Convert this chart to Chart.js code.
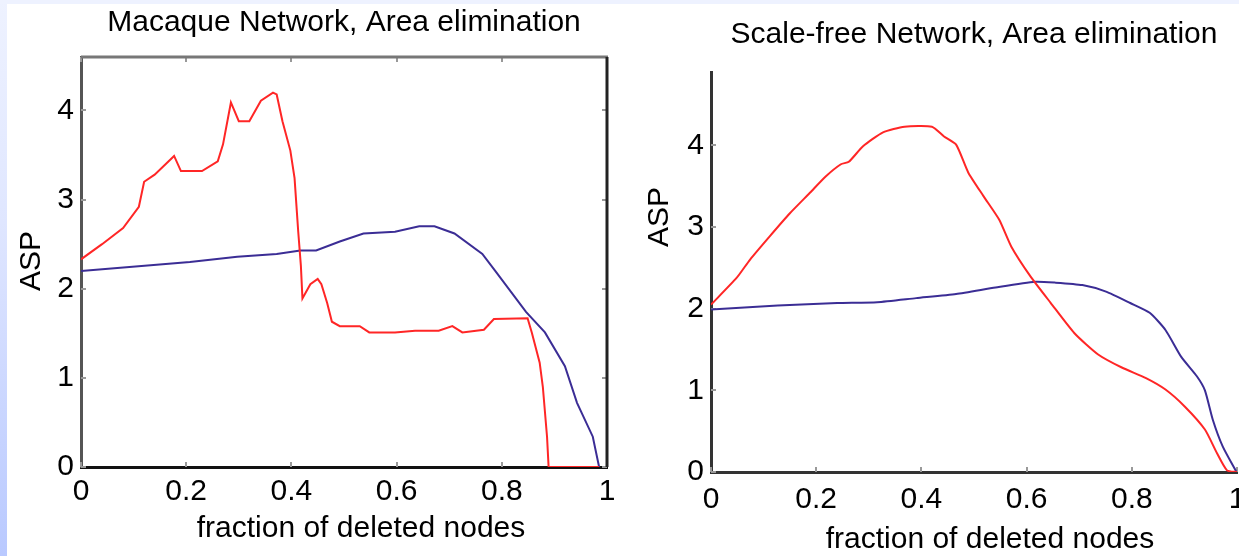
<!DOCTYPE html>
<html>
<head>
<meta charset="utf-8">
<script src="https://cdn.jsdelivr.net/npm/chart.js@4.4.0/dist/chart.umd.min.js"></script>
<style>
  html, body { margin: 0; padding: 0; background: #fff; }
  body { width: 1239px; height: 556px; position: relative; overflow: hidden; }
  #strip-left { position: absolute; left: 0; top: 0; width: 7px; height: 556px;
    background: linear-gradient(#eef2ff, #dfe6ff 40%, #b9c9ff); }
  #strip-top { position: absolute; left: 0; top: 0; width: 1239px; height: 4px; background: #eef2ff; }
  .panel { position: absolute; top: 0; height: 556px; }
  #left { left: 0; width: 620px; }
  #right { left: 620px; width: 619px; }
</style>
</head>
<body>
<div id="strip-left"></div>
<div id="strip-top"></div>
<div class="panel" id="left"><canvas id="macaqueChart" width="620" height="556"></canvas></div>
<div class="panel" id="right"><canvas id="scaleFreeChart" width="619" height="556"></canvas></div>
<script>
// Macaque network, area elimination
const macaqueRedX = [0, 0.04, 0.08, 0.11, 0.12, 0.14, 0.177, 0.19, 0.23, 0.26, 0.27, 0.285, 0.30, 0.32, 0.342, 0.365, 0.372, 0.383, 0.398, 0.406, 0.413, 0.418, 0.421, 0.436, 0.45, 0.457, 0.468, 0.477, 0.492, 0.53, 0.548, 0.597, 0.635, 0.68, 0.706, 0.725, 0.766, 0.785, 0.849, 0.857, 0.872, 0.878, 0.886, 0.889, 0.985];
const macaqueRedY = [2.33, 2.5, 2.68, 2.92, 3.2, 3.28, 3.49, 3.32, 3.32, 3.43, 3.62, 4.09, 3.88, 3.88, 4.11, 4.2, 4.18, 3.88, 3.55, 3.24, 2.64, 2.26, 1.89, 2.05, 2.11, 2.05, 1.84, 1.63, 1.58, 1.58, 1.51, 1.51, 1.53, 1.53, 1.58, 1.51, 1.54, 1.66, 1.67, 1.51, 1.17, 0.9, 0.34, 0, 0];
const macaqueBlueX = [0, 0.207, 0.297, 0.372, 0.417, 0.447, 0.492, 0.537, 0.597, 0.643, 0.672, 0.71, 0.763, 0.79, 0.846, 0.882, 0.92, 0.943, 0.973, 0.985];
const macaqueBlueY = [2.2, 2.3, 2.36, 2.39, 2.43, 2.43, 2.53, 2.62, 2.64, 2.7, 2.7, 2.62, 2.39, 2.18, 1.74, 1.51, 1.13, 0.72, 0.34, 0];

// Scale-free network, area elimination
const scaleFreeRedX = [0, 0.049, 0.074, 0.112, 0.15, 0.188, 0.218, 0.247, 0.262, 0.289, 0.327, 0.368, 0.42, 0.443, 0.466, 0.489, 0.518, 0.548, 0.571, 0.608, 0.646, 0.691, 0.736, 0.781, 0.827, 0.864, 0.901, 0.939, 0.962, 0.981, 1];
const scaleFreeRedY = [2.05, 2.38, 2.6, 2.89, 3.17, 3.42, 3.62, 3.77, 3.8, 3.99, 4.16, 4.23, 4.23, 4.11, 4.01, 3.67, 3.38, 3.09, 2.76, 2.39, 2.07, 1.7, 1.44, 1.28, 1.15, 1.01, 0.8, 0.52, 0.23, 0.02, 0];
const scaleFreeBlueX = [0, 0.127, 0.24, 0.316, 0.39, 0.466, 0.541, 0.616, 0.654, 0.706, 0.751, 0.797, 0.834, 0.864, 0.894, 0.924, 0.939, 0.954, 0.973, 0.999];
const scaleFreeBlueY = [1.99, 2.04, 2.07, 2.08, 2.13, 2.18, 2.26, 2.33, 2.32, 2.29, 2.21, 2.07, 1.95, 1.74, 1.41, 1.17, 1.0, 0.64, 0.31, 0];

const xTickStep = 0.2;
const yTickStep = 1;

const RED = '#ff2626';
const BLUE = '#3b2d95';
const FONT = 'Liberation Sans, Arial, sans-serif';

const toPoints = (xs, ys) => xs.map((x, i) => ({ x, y: ys[i] }));

// small inward ticks and the optional box around the plot
const frame = {
  id: 'frame',
  beforeDatasetsDraw(chart, args, opts) {
    const { ctx, chartArea: a, scales: { x, y } } = chart;
    const line = (x1, y1, x2, y2) => { ctx.beginPath(); ctx.moveTo(x1, y1); ctx.lineTo(x2, y2); ctx.stroke(); };
    ctx.save();
    ctx.strokeStyle = '#999';
    ctx.lineWidth = 2;
    x.ticks.forEach((t, i) => {
      const px = Math.round(x.getPixelForTick(i));
      line(px, a.bottom, px, a.bottom - 5);
      if (opts.box) line(px, a.top, px, a.top + 5);
    });
    y.ticks.forEach((t, i) => {
      const py = Math.round(y.getPixelForTick(i));
      line(a.left, py, a.left + 5, py);
      if (opts.box) line(a.right, py, a.right - 5, py);
    });
    if (opts.box) {
      ctx.lineWidth = 3;
      ctx.strokeStyle = '#777';
      line(a.left, a.top, a.right + 1, a.top);
      ctx.strokeStyle = '#222';
      line(a.right, a.top, a.right, a.bottom);
    }
    ctx.restore();
  }
};

// axis labels placed like the original figure
const axisText = {
  id: 'axisText',
  afterDraw(chart, args, opts) {
    const ctx = chart.ctx;
    (opts.items || []).forEach(it => {
      ctx.save();
      ctx.translate(it.x, it.y);
      ctx.rotate(it.rotate || 0);
      ctx.font = '30px ' + FONT;
      ctx.fillStyle = '#000';
      ctx.textAlign = 'center';
      ctx.textBaseline = 'alphabetic';
      ctx.fillText(it.text, 0, 0);
      ctx.restore();
    });
  }
};

const plainNum = v => String(Number(v.toFixed(2)));

function makeChart(id, cfg) {
  return new Chart(document.getElementById(id), {
    type: 'line',
    data: {
      datasets: [
        { data: toPoints(cfg.redX, cfg.redY), borderColor: RED },
        { data: toPoints(cfg.blueX, cfg.blueY), borderColor: BLUE }
      ]
    },
    options: {
      responsive: false,
      animation: false,
      layout: { padding: { left: 0, right: cfg.padRight, top: 0, bottom: 0 } },
      elements: {
        point: { radius: 0 },
        line: { borderWidth: 2, tension: cfg.tension }
      },
      plugins: {
        legend: { display: false },
        tooltip: { enabled: false },
        title: {
          display: true,
          text: cfg.title,
          fullSize: false,
          color: '#000',
          font: { family: FONT, size: 30, weight: 'normal' },
          padding: cfg.titlePad
        },
        frame: { box: cfg.box },
        axisText: { items: cfg.labels }
      },
      scales: {
        x: {
          type: 'linear',
          min: 0,
          max: 1,
          grid: { display: false, drawTicks: false },
          border: { display: true, color: cfg.xAxisColor, width: 3 },
          ticks: { stepSize: xTickStep, color: '#000', padding: cfg.xTickPad, maxRotation: 0,
                   font: { family: FONT, size: 30 }, callback: plainNum },
          afterFit: s => { s.height = cfg.xHeight; s.paddingRight = 0; }
        },
        y: {
          type: 'linear',
          min: 0,
          max: cfg.yMax,
          grid: { display: false, drawTicks: false },
          border: { display: true, color: cfg.yAxisColor, width: 3 },
          ticks: { stepSize: yTickStep, color: '#000', padding: 7,
                   font: { family: FONT, size: 30 }, callback: plainNum },
          afterBuildTicks: s => { s.ticks = s.ticks.filter(t => Number.isInteger(t.value)); },
          afterFit: s => { s.width = cfg.yWidth; }
        }
      }
    },
    plugins: [frame, axisText]
  });
}

makeChart('macaqueChart', {
  title: 'Macaque Network, Area elimination',
  redX: macaqueRedX, redY: macaqueRedY, blueX: macaqueBlueX, blueY: macaqueBlueY,
  yMax: 4.6, tension: 0, box: true,
  padRight: 13, yWidth: 81, xHeight: 89,
  titlePad: { top: 5, bottom: 16 },
  xTickPad: 7, xAxisColor: '#111', yAxisColor: '#555',
  labels: [
    { text: 'fraction of deleted nodes', x: 361, y: 537 },
    { text: 'ASP', x: 40, y: 261, rotate: -Math.PI / 2 }
  ]
});

makeChart('scaleFreeChart', {
  title: 'Scale-free Network, Area elimination',
  redX: scaleFreeRedX, redY: scaleFreeRedY, blueX: scaleFreeBlueX, blueY: scaleFreeBlueY,
  yMax: 4.9, tension: 0.2, box: false,
  padRight: 2, yWidth: 91, xHeight: 84,
  titlePad: { top: 17, bottom: 19 },
  xTickPad: 10, xAxisColor: '#333', yAxisColor: '#333',
  labels: [
    { text: 'fraction of deleted nodes', x: 370, y: 548 },
    { text: 'ASP', x: 48, y: 217, rotate: -Math.PI / 2 }
  ]
});
</script>
</body>
</html>
